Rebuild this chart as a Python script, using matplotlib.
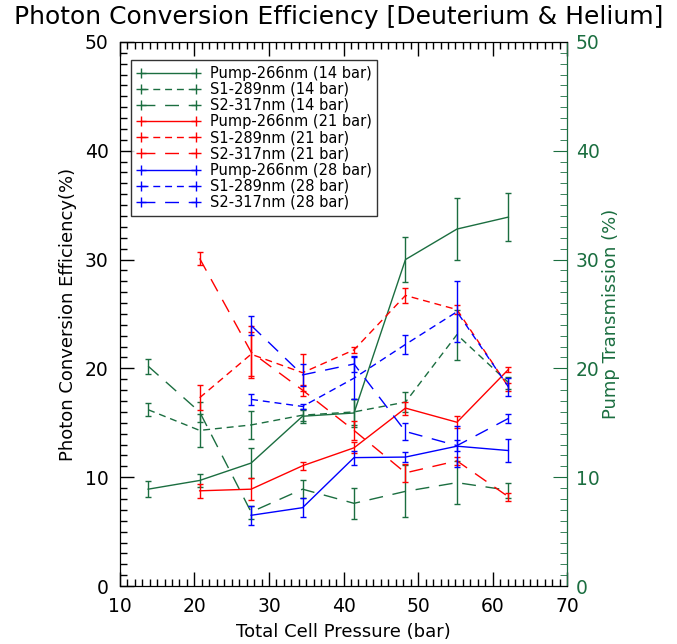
import matplotlib
matplotlib.use("Agg")
import matplotlib.pyplot as plt
from matplotlib.lines import Line2D
from matplotlib.ticker import MultipleLocator

# cell pressures (bar)
pressure = [13.8, 20.7, 27.6, 34.5, 41.4, 48.3, 55.2, 62.1]

# 14 bar fill (all pressures)
pump14 = [8.9, 9.7, 11.3, 15.6, 15.9, 30.0, 32.8, 33.9]
pump14_err = [0.75, 0.6, 1.4, 0.65, 1.25, 2.1, 2.85, 2.2]
s1_14 = [16.2, 14.3, 14.8, 15.7, 16.0, 16.9, 23.1, 18.7]
s1_14_err = [0.6, 1.5, 1.25, 0.5, 1.2, 0.9, 2.3, 0.55]
s2_14 = [20.2, 16.0, 6.8, 8.9, 7.6, 8.7, 9.5, 8.8]
s2_14_err = [0.7, 0.9, 0.6, 0.8, 1.4, 2.4, 2.0, 0.7]

# 21 bar fill (from 20.7 bar)
pump21 = [8.75, 8.9, 11.05, 12.7, 16.35, 15.05, 19.9]
pump21_err = [0.65, 1.0, 0.35, 0.5, 0.6, 0.55, 0.2]
s1_21 = [17.3, 21.3, 19.6, 21.7, 26.7, 25.4, 18.3]
s1_21_err = [1.15, 2.0, 1.7, 0.3, 0.7, 0.4, 0.4]
s2_21 = [30.1, 21.5, 18.0, 14.3, 10.4, 11.5, 8.2]
s2_21_err = [0.6, 2.4, 0.5, 0.9, 0.85, 0.4, 0.35]

# 28 bar fill (from 27.6 bar)
pump28 = [6.5, 7.2, 11.8, 11.85, 12.85, 12.45]
pump28_err = [0.9, 0.9, 0.65, 0.45, 1.9, 1.05]
s1_28 = [17.15, 16.5, 19.1, 22.2, 25.2, 18.3]
s1_28_err = [0.5, 0.2, 1.9, 0.9, 2.8, 0.8]
s2_28 = [23.95, 19.4, 20.4, 14.2, 12.9, 15.4]
s2_28_err = [0.85, 1.0, 0.7, 0.8, 0.5, 0.4]

GREEN = '#1b6e40'
RED = '#ff0000'
BLUE = '#0000ff'
SOLID = '-'
SHORT = (0, (5, 3.5))
LONG = (0, (10, 7))

series = [
    ('Pump-266nm (14 bar)', pressure, pump14, pump14_err, GREEN, SOLID),
    ('S1-289nm (14 bar)', pressure, s1_14, s1_14_err, GREEN, SHORT),
    ('S2-317nm (14 bar)', pressure, s2_14, s2_14_err, GREEN, LONG),
    ('Pump-266nm (21 bar)', pressure[1:], pump21, pump21_err, RED, SOLID),
    ('S1-289nm (21 bar)', pressure[1:], s1_21, s1_21_err, RED, SHORT),
    ('S2-317nm (21 bar)', pressure[1:], s2_21, s2_21_err, RED, LONG),
    ('Pump-266nm (28 bar)', pressure[2:], pump28, pump28_err, BLUE, SOLID),
    ('S1-289nm (28 bar)', pressure[2:], s1_28, s1_28_err, BLUE, SHORT),
    ('S2-317nm (28 bar)', pressure[2:], s2_28, s2_28_err, BLUE, LONG),
]

plt.rcParams['font.family'] = ['DejaVu Sans']

fig = plt.figure(figsize=(6.77, 6.44), dpi=100)
ax = fig.add_axes([0.177, 0.090, 0.661, 0.845])

handles = []
for label, xs, ys, errs, col, ls in series:
    ax.plot(xs, ys, color=col, ls=ls, lw=1.0)
    ax.errorbar(xs, ys, yerr=errs, fmt='none', ecolor=col, elinewidth=1.0,
                capsize=2.5, capthick=1.0)
    handles.append(Line2D([0], [0], color=col, ls=ls, lw=1.0, marker='+',
                          markersize=7, markeredgewidth=1.0))

ax.set_xlim(10, 70)
ax.set_ylim(0, 50)
ax.xaxis.set_major_locator(MultipleLocator(10))
ax.xaxis.set_minor_locator(MultipleLocator(1))
ax.yaxis.set_major_locator(MultipleLocator(10))
ax.yaxis.set_minor_locator(MultipleLocator(1))
ax.tick_params(which='both', direction='in', top=True, right=False,
               labelsize=13.5, pad=8)
ax.tick_params(which='major', length=10, width=1.0)
ax.tick_params(which='minor', length=5, width=1.0)
ax.set_xlabel('Total Cell Pressure (bar)', fontsize=13, labelpad=5)
ax.set_ylabel('Photon Conversion Efficiency(%)', fontsize=13, labelpad=6)

# title sits above the end tick labels, wider than the axes
fig.text(0.5, 0.955, 'Photon Conversion Efficiency [Deuterium & Helium]',
         fontsize=18, ha='center', va='bottom')

# right-hand axis for the pump transmission
ax2 = ax.twinx()
ax2.set_ylim(0, 50)
ax2.yaxis.set_major_locator(MultipleLocator(10))
ax2.yaxis.set_minor_locator(MultipleLocator(1))
ax2.tick_params(which='both', direction='in', colors=GREEN, labelsize=13.5,
                pad=6)
ax2.tick_params(which='major', length=10)
ax2.tick_params(which='minor', length=5)
ax2.spines['right'].set_color(GREEN)
ax2.set_ylabel('Pump Transmission (%)', color=GREEN, fontsize=13, labelpad=2)

leg = ax.legend(handles, [s[0] for s in series], loc='upper left',
                bbox_to_anchor=(0.0246, 0.967), borderaxespad=0,
                fontsize=10.5, frameon=True, fancybox=False,
                edgecolor='black', handlelength=4.4, handletextpad=0.6,
                labelspacing=0.08, borderpad=0.4, numpoints=2)
leg.get_frame().set_linewidth(1.0)

fig.savefig('out.png', dpi=100)
